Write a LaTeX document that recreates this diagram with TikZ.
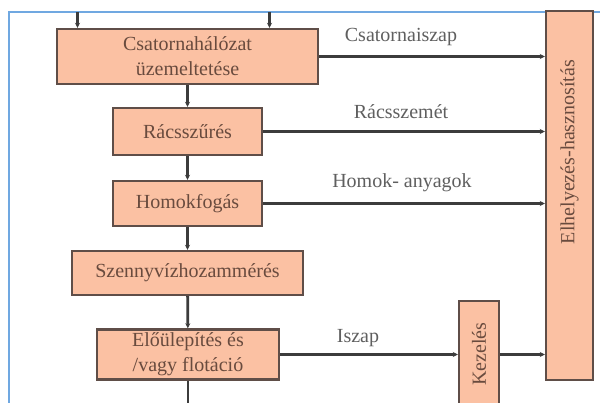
\documentclass[tikz,border=0pt]{standalone}
\usepackage{fontspec}
\setmainfont{Liberation Serif}
\usetikzlibrary{arrows.meta}
\definecolor{boxfill}{RGB}{251,193,163}
\definecolor{boxline}{RGB}{95,78,72}
\definecolor{boxtext}{RGB}{105,75,62}
\definecolor{lbltext}{RGB}{95,95,95}
\definecolor{conn}{RGB}{60,60,60}
\definecolor{frameblue}{RGB}{112,168,225}
\tikzset{
  procbox/.style={draw=boxline, line width=2.4pt, fill=boxfill, text=boxtext, inner sep=0pt, align=center,
    font=\fontsize{20}{25}\selectfont},
  flowlbl/.style={text=lbltext, inner sep=0pt, font=\fontsize{20}{25}\selectfont},
  flow/.style={draw=conn, line width=2.8pt, -{Stealth[length=5pt,width=5pt]}},
  plainflow/.style={draw=conn, line width=2.8pt}
}
\begin{document}
\begin{tikzpicture}[x=1pt,y=-1pt]
\clip (0,0) rectangle (600,403);
\fill[white] (0,0) rectangle (600,403);
\draw[frameblue, line width=1.6pt] (9,410) -- (9,12) -- (610,12);
\node[procbox, minimum width=261pt, minimum height=55pt] (A) at (187.5,56.5) {Csatornahálózat\\üzemeltetése};
\node[procbox, minimum width=149pt, minimum height=47pt] (B) at (187.5,131.5) {Rácsszűrés};
\node[procbox, minimum width=149pt, minimum height=45pt] (C) at (187.5,203.5) {Homokfogás};
\node[procbox, minimum width=231pt, minimum height=44pt] (D) at (187.5,273) {Szennyvízhozammérés};
\node[procbox, minimum width=182pt, minimum height=50pt] (E) at (188,354.5) {Előülepítés és\\/vagy flotáció};
\node[procbox, minimum width=40pt, minimum height=112pt] (F) at (479,357) {};
\node[rotate=90, text=boxtext, font=\fontsize{20}{25}\selectfont, inner sep=0pt] (Ft) at (479,354) {Kezelés};
\node[procbox, minimum width=47pt, minimum height=369pt] (G) at (569.5,195.5) {};
\node[rotate=90, text=boxtext, font=\fontsize{20}{25}\selectfont, inner sep=0pt] (Gt) at (569.5,152) {Elhelyezés-hasznosítás};
\coordinate (in1) at (77.5,12);
\coordinate (in2) at (269.5,12);
\coordinate (out) at (188,410);
\draw[flow] (in1) -- (in1 |- A.north);
\draw[flow] (in2) -- (in2 |- A.north);
\draw[flow] (A) -- (B);
\draw[flow] (B) -- (C);
\draw[flow] (C) -- (D);
\draw[flow] (D) -- (E);
\draw[plainflow] (E) -- (out);
\draw[flow] (A.east) -- (A.east -| G.west);
\draw[flow] (B.east) -- (B.east -| G.west);
\draw[flow] (C.east) -- (C.east -| G.west);
\draw[flow] (E.east) -- (E.east -| F.west);
\draw[flow] (F.east |- E.east) -- (E.east -| G.west);
\node[flowlbl] (l1) at (401,37) {Csatornaiszap};
\node[flowlbl] (l2) at (401,112) {Rácsszemét};
\node[flowlbl] (l3) at (402,183) {Homok- anyagok};
\node[flowlbl] (l4) at (358,338) {Iszap};
\end{tikzpicture}
\end{document}
